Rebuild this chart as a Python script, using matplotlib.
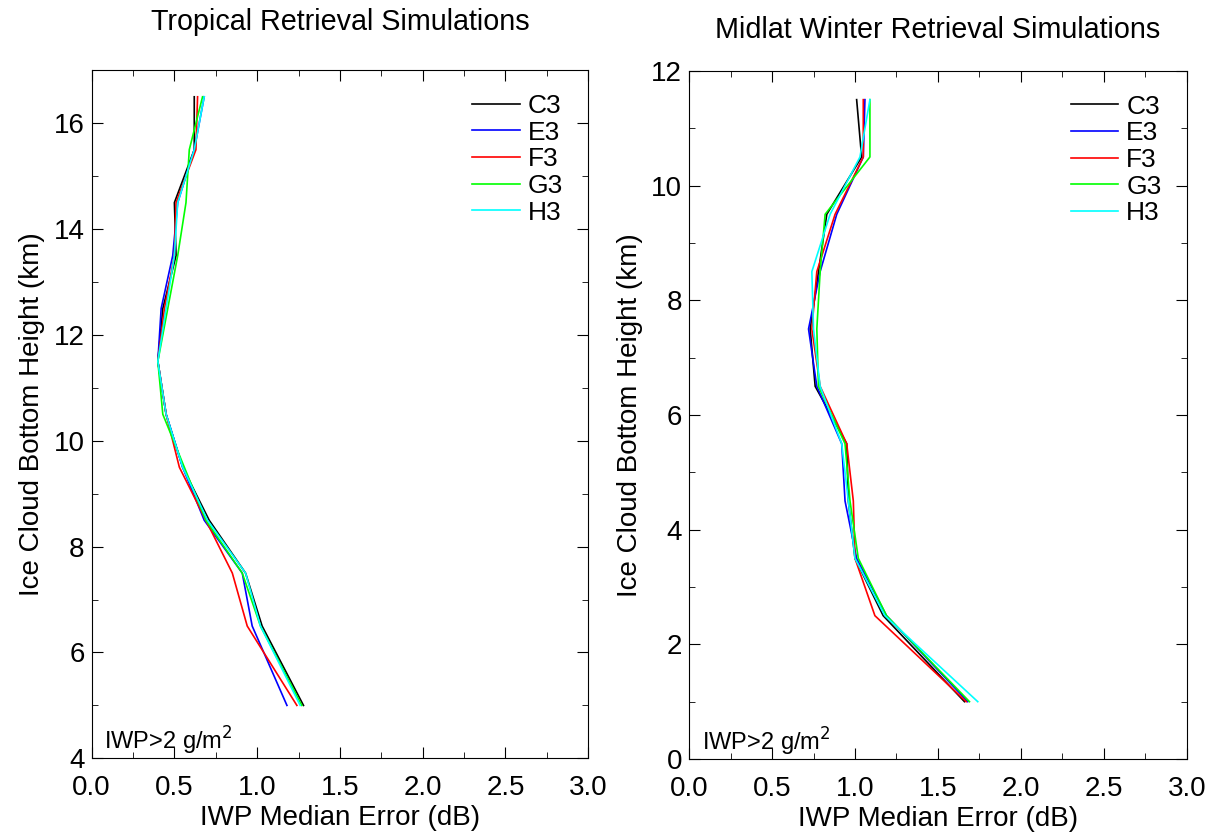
import numpy as np
import matplotlib
matplotlib.use("Agg")
import matplotlib.pyplot as plt
from matplotlib.ticker import MultipleLocator, FormatStrFormatter

plt.rcParams['font.family'] = ['Liberation Sans', 'DejaVu Sans']

# series names and colours
names = ['C3', 'E3', 'F3', 'G3', 'H3']
colors = ['#000000', '#0000ff', '#ff0000', '#00ff00', '#00ffff']

# Tropical: ice cloud bottom height (km) vs. IWP median error (dB)
trop_height = [5.0, 6.5, 7.5, 8.5, 9.5, 10.5, 11.5, 12.5, 13.5, 14.5, 15.5, 16.5]
trop_c3 = [1.28, 1.03, 0.93, 0.71, 0.55, 0.45, 0.40, 0.43, 0.51, 0.50, 0.62, 0.62]
trop_e3 = [1.18, 0.97, 0.91, 0.68, 0.55, 0.45, 0.40, 0.42, 0.49, 0.52, 0.62, 0.68]
trop_f3 = [1.24, 0.94, 0.85, 0.69, 0.53, 0.45, 0.40, 0.44, 0.50, 0.51, 0.63, 0.64]
trop_g3 = [1.27, 1.02, 0.91, 0.69, 0.56, 0.43, 0.40, 0.46, 0.52, 0.57, 0.59, 0.67]
trop_h3 = [1.26, 1.02, 0.93, 0.70, 0.55, 0.45, 0.40, 0.45, 0.50, 0.52, 0.62, 0.68]

# Midlat winter
mlw_height = [1.0, 2.5, 3.5, 4.5, 5.5, 6.5, 7.5, 8.5, 9.5, 10.5, 11.5]
mlw_c3 = [1.66, 1.17, 1.00, 0.96, 0.95, 0.76, 0.73, 0.78, 0.83, 1.04, 1.01]
mlw_e3 = [1.68, 1.19, 1.01, 0.94, 0.92, 0.77, 0.72, 0.79, 0.89, 1.05, 1.06]
mlw_f3 = [1.67, 1.12, 1.00, 0.99, 0.95, 0.79, 0.74, 0.77, 0.88, 1.05, 1.05]
mlw_g3 = [1.69, 1.19, 1.02, 0.97, 0.94, 0.78, 0.77, 0.79, 0.82, 1.09, 1.09]
mlw_h3 = [1.74, 1.18, 1.00, 0.96, 0.92, 0.79, 0.75, 0.74, 0.85, 1.03, 1.09]

trop_series = [trop_c3, trop_e3, trop_f3, trop_g3, trop_h3]
mlw_series = [mlw_c3, mlw_e3, mlw_f3, mlw_g3, mlw_h3]

fig = plt.figure(figsize=(12.17, 8.36), dpi=100, facecolor='w')
ax1 = fig.add_axes([0.0753, 0.0929, 0.408, 0.823])
ax2 = fig.add_axes([0.5662, 0.0921, 0.409, 0.823])


def draw_panel(ax, height, series, ylim, title, title_y):
    for vals, name, c in zip(series, names, colors):
        ax.plot(vals, height, color=c, linewidth=1.2, label=name)
    ax.set_xlim(0, 3)
    ax.set_ylim(*ylim)
    ax.xaxis.set_major_locator(MultipleLocator(0.5))
    ax.xaxis.set_minor_locator(MultipleLocator(0.25))
    ax.yaxis.set_major_locator(MultipleLocator(2))
    ax.yaxis.set_minor_locator(MultipleLocator(1))
    ax.xaxis.set_major_formatter(FormatStrFormatter('%.1f'))
    ax.tick_params(which='both', direction='in', top=True, right=True, labelsize=20)
    ax.tick_params(which='major', length=8)
    ax.tick_params(axis='x', which='major', pad=12)
    ax.tick_params(axis='y', which='major', pad=5)
    ax.tick_params(which='minor', length=4)
    ax.set_xlabel("IWP Median Error (dB)", fontsize=20, labelpad=3)
    ax.set_ylabel("Ice Cloud Bottom Height (km)", fontsize=20, labelpad=6)
    ax.text(0.025, 0.012, "IWP>2 g/m$^2$", transform=ax.transAxes, fontsize=17)
    ax.legend(loc='upper right', bbox_to_anchor=(0.997, 1.0), frameon=False, fontsize=19,
              handlelength=1.8, handletextpad=0.3, labelspacing=0.1)
    pos = ax.get_position()
    fig.text((pos.x0 + pos.x1) / 2, title_y, title, ha='center', va='center', fontsize=20.7)


draw_panel(ax1, trop_height, trop_series, (4, 17), "Tropical Retrieval Simulations", 1 - 22 / 836)
draw_panel(ax2, mlw_height, mlw_series, (0, 12), "Midlat Winter Retrieval Simulations", 1 - 30 / 836)

fig.savefig("out.png", dpi=100)
